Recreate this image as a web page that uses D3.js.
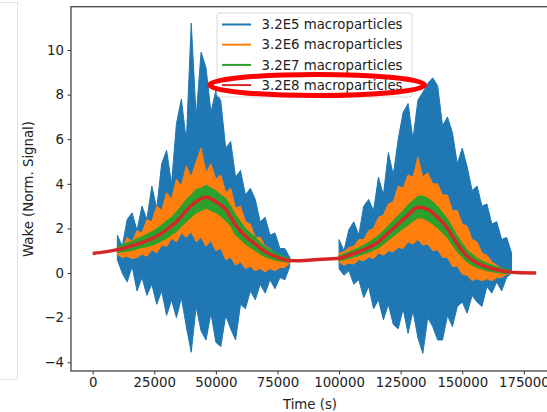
<!DOCTYPE html>
<html>
<head>
<meta charset="utf-8">
<script src="https://cdn.jsdelivr.net/npm/d3@7"></script>
<style>
  body { margin: 0; background: #fff; }
  text { font-family: "DejaVu Sans", sans-serif; fill: #222; }
</style>
</head>
<body>
<div id="chart"></div>
<script>
// time grids (thousands of seconds) for the two noisy humps
var hump1T = [10,12,14,16,18,20,22,24,26,28,30,32,34,36,38,40,42,44,46,48,50,52,54,56,58,60,62,64,66,68,70,72,74,76,78,80];
var hump2T = [100,102,104,106,108,110,112,114,116,118,120,122,124,126,128,130,132,134,136,138,140,142,144,146,148,150,152,154,156,158,160,162,164,166,168,170];

// 3.2E5 macroparticles: max / min per bin
var blueHi1 = [1.7,1.2,2.4,2.7,1.9,3.0,2.4,3.9,2.9,4.9,5.5,4.0,6.7,7.8,5.9,11.2,7.0,9.9,9.2,7.2,8.2,7.7,5.6,5.9,4.3,4.6,3.5,3.8,3.3,2.3,2.5,1.7,1.8,1.1,1.1,0.7];
var blueLo1 = [0.6,0.0,-0.4,0.3,-0.8,-0.2,-1.0,-0.5,-1.4,-0.8,-1.9,-1.2,-2.0,-1.1,-2.4,-3.55,-1.5,-2.6,-3.0,-1.8,-3.1,-3.3,-1.9,-2.5,-3.0,-1.4,-1.6,-0.8,-1.2,-0.5,-0.9,-0.3,-0.7,-0.2,-0.3,0.3];
var blueHi2 = [1.5,1.0,1.95,2.3,1.7,3.0,3.3,2.8,4.3,3.5,5.4,4.4,6.0,7.2,7.6,6.0,7.75,8.1,8.5,8.75,8.4,6.6,7.0,6.3,4.9,5.6,4.75,3.7,3.9,3.0,3.1,2.2,2.3,1.5,1.6,0.9];
var blueLo2 = [0.2,-0.1,0.1,-0.5,-0.3,-1.1,-0.6,-1.6,-1.2,-2.1,-1.4,-2.3,-2.5,-1.6,-2.7,-1.7,-2.9,-3.6,-2.0,-2.4,-3.0,-3.0,-1.9,-2.4,-1.5,-1.3,-1.8,-1.0,-1.3,-1.5,-0.6,-0.9,-0.4,-0.8,-0.2,0.0];

// 3.2E6 macroparticles
var orangeHi1 = [1.2,1.1,1.6,1.4,1.9,1.8,2.4,2.3,3.0,2.8,3.6,3.3,4.2,3.9,4.8,4.3,5.0,5.6,4.5,4.9,4.2,4.4,3.6,3.8,2.9,3.0,2.3,2.2,1.6,1.6,1.2,1.1,0.8,0.8,0.65,0.6];
var orangeLo1 = [0.85,0.7,0.75,0.65,0.7,0.85,0.75,1.05,0.9,1.25,1.2,1.55,1.4,1.8,1.6,1.85,1.4,1.6,1.2,1.45,1.0,1.1,0.6,0.7,0.35,0.5,0.2,0.3,0.1,0.2,0.05,0.2,0.1,0.25,0.25,0.45];
var orangeHi2 = [0.9,0.95,1.15,1.2,1.5,1.5,1.9,2.0,2.5,2.6,3.1,3.2,3.9,3.8,4.4,4.3,5.2,4.3,4.5,4.0,4.0,3.5,3.5,2.8,2.8,2.2,2.1,1.5,1.4,0.9,0.8,0.5,0.35,0.2,0.15,0.1];
var orangeLo2 = [0.5,0.35,0.45,0.4,0.6,0.55,0.72,0.65,0.9,0.8,1.0,0.95,1.15,1.1,1.4,1.3,1.5,1.25,1.3,1.0,1.05,0.7,0.7,0.3,0.3,-0.05,-0.1,-0.35,-0.25,-0.35,-0.25,-0.35,-0.2,-0.2,-0.05,0.0];

// 3.2E7 macroparticles
var greenHi1 = [1.2,1.28,1.35,1.42,1.55,1.62,1.75,1.85,2.0,2.15,2.35,2.5,2.75,3.0,3.3,3.5,3.75,3.8,3.95,3.8,3.7,3.5,3.35,3.0,2.6,2.3,2.0,1.8,1.6,1.38,1.18,1.05,0.92,0.82,0.72,0.65];
var greenLo1 = [0.92,0.95,0.98,1.02,1.08,1.15,1.18,1.25,1.32,1.45,1.55,1.72,1.85,2.1,2.3,2.5,2.7,2.8,2.9,2.8,2.7,2.55,2.35,2.1,1.7,1.5,1.3,1.15,1.0,0.85,0.72,0.65,0.58,0.54,0.5,0.48];
var greenHi2 = [0.78,0.86,0.95,1.04,1.13,1.25,1.38,1.52,1.68,1.9,2.12,2.35,2.58,2.8,3.05,3.25,3.45,3.45,3.35,3.2,2.98,2.7,2.42,2.05,1.65,1.33,1.02,0.85,0.66,0.55,0.44,0.36,0.28,0.22,0.17,0.13];
var greenLo2 = [0.54,0.6,0.66,0.72,0.78,0.86,0.93,1.04,1.13,1.3,1.48,1.65,1.82,2.0,2.16,2.32,2.48,2.45,2.35,2.2,2.02,1.8,1.58,1.25,0.95,0.71,0.48,0.35,0.24,0.17,0.1,0.06,0.02,0.0,-0.02,-0.02];

// 3.2E8 macroparticles (smooth)
var redT = [0,5,10,14,18,22,26,30,34,38,42,46,50,54,58,62,66,70,74,78,82,90,100,104,108,112,116,120,124,128,132,136,140,144,148,152,156,160,164,168,172,180];
var redV = [0.88,0.95,1.05,1.15,1.3,1.45,1.65,1.95,2.3,2.8,3.2,3.4,3.2,2.85,2.15,1.65,1.3,0.95,0.75,0.6,0.55,0.6,0.66,0.8,0.95,1.15,1.4,1.8,2.2,2.6,2.95,2.85,2.5,2.0,1.3,0.75,0.45,0.27,0.15,0.07,0.02,0.0];

var legendLabels = ["3.2E5 macroparticles", "3.2E6 macroparticles", "3.2E7 macroparticles", "3.2E8 macroparticles"];
var colors = ["#1f77b4", "#ff7f0e", "#2ca02c", "#d62728"];
var xTicks = [0, 25000, 50000, 75000, 100000, 125000, 150000, 175000];
var yTicks = [-4, -2, 0, 2, 4, 6, 8, 10];

function band(T, hi, lo) {
    return T.map(function(t, i) { return {t: t * 1000, hi: hi[i], lo: lo[i]}; });
}

function createChart() {
    var W = 547, H = 412;
    var plot = {left: 71, top: 6.7, bottom: 371, right: 548};

    var x = d3.scaleLinear()
        .domain([-8800, 184800])
        .range([plot.left, plot.right]);

    var y = d3.scaleLinear()
        .domain([-4.39, 11.94])
        .range([plot.bottom, plot.top]);

    var svg = d3.select("#chart").append("svg")
        .attr("width", W)
        .attr("height", H);

    // leftover panel border at the left edge
    svg.append("rect")
        .attr("x", -1).attr("y", 2.5)
        .attr("width", 18.5).attr("height", 377)
        .attr("fill", "none")
        .attr("stroke", "#e2e2e2");

    svg.append("defs").append("clipPath").attr("id", "clip")
      .append("rect")
        .attr("x", plot.left).attr("y", plot.top)
        .attr("width", plot.right - plot.left).attr("height", plot.bottom - plot.top);

    var g = svg.append("g").attr("clip-path", "url(#clip)");

    var area = d3.area()
        .x(function(d) { return x(d.t); })
        .y0(function(d) { return y(d.lo); })
        .y1(function(d) { return y(d.hi); });

    var bands = [
        [band(hump1T, blueHi1, blueLo1), band(hump2T, blueHi2, blueLo2)],
        [band(hump1T, orangeHi1, orangeLo1), band(hump2T, orangeHi2, orangeLo2)],
        [band(hump1T, greenHi1, greenLo1), band(hump2T, greenHi2, greenLo2)]
    ];

    bands.forEach(function(pair, k) {
        pair.forEach(function(data) {
            g.append("path")
                .datum(data)
                .attr("d", area)
                .attr("fill", colors[k])
                .attr("stroke", colors[k])
                .attr("stroke-width", 1)
                .attr("stroke-linejoin", "miter");
        });
    });

    var line = d3.line()
        .curve(d3.curveMonotoneX)
        .x(function(d, i) { return x(redT[i] * 1000); })
        .y(function(d) { return y(d); });

    g.append("path")
        .datum(redV)
        .attr("d", line)
        .attr("fill", "none")
        .attr("stroke", colors[3])
        .attr("stroke-width", 3.5);

    // axes
    var xAxis = d3.axisBottom(x)
        .tickValues(xTicks)
        .tickSizeInner(3.5).tickSizeOuter(0).tickPadding(3.5)
        .tickFormat(d3.format("d"));

    var yAxis = d3.axisLeft(y)
        .tickValues(yTicks)
        .tickSizeInner(3.5).tickSizeOuter(0).tickPadding(3.5)
        .tickFormat(function(d) { return d < 0 ? "\u2212" + Math.abs(d) : d; });

    svg.append("g")
        .attr("transform", "translate(0," + plot.bottom + ")")
        .call(xAxis);

    svg.append("g")
        .attr("transform", "translate(" + plot.left + ",0)")
        .call(yAxis);

    svg.selectAll(".tick text")
        .attr("font-size", "13.3px")
        .attr("font-family", "DejaVu Sans")
        .attr("fill", "#222");
    svg.selectAll(".tick line").attr("stroke", "#333").attr("stroke-width", 1);
    svg.selectAll(".domain").remove();

    // spines
    svg.append("rect")
        .attr("x", plot.left).attr("y", plot.top)
        .attr("width", plot.right - plot.left).attr("height", plot.bottom - plot.top)
        .attr("fill", "none")
        .attr("stroke", "#444")
        .attr("stroke-width", 1.3);

    svg.append("text")
        .attr("x", 310).attr("y", 409)
        .attr("text-anchor", "middle")
        .attr("font-size", "13.3px")
        .text("Time (s)");

    svg.append("text")
        .attr("transform", "translate(33,189) rotate(-90)")
        .attr("text-anchor", "middle")
        .attr("font-size", "13.3px")
        .text("Wake (Norm. Signal)");

    // legend
    var lg = svg.append("g");
    lg.append("rect")
        .attr("x", 217).attr("y", 13)
        .attr("width", 195).attr("height", 84)
        .attr("rx", 3)
        .attr("fill", "#fff").attr("fill-opacity", 0.8)
        .attr("stroke", "#d8d8d8");

    legendLabels.forEach(function(label, i) {
        var yy = 24.5 + i * 20.2;
        lg.append("line")
            .attr("x1", 222).attr("x2", 251)
            .attr("y1", yy).attr("y2", yy)
            .attr("stroke", colors[i])
            .attr("stroke-width", 2);
        lg.append("text")
            .attr("x", 261.5).attr("y", yy)
            .attr("dy", "0.35em")
            .attr("font-size", "13.3px")
            .text(label);
    });

    // hand-drawn highlight around the last legend entry
    svg.append("ellipse")
        .attr("cx", 317).attr("cy", 85)
        .attr("rx", 107.5).attr("ry", 10.5)
        .attr("fill", "none")
        .attr("stroke", "#ff0000")
        .attr("stroke-width", 5);
}

createChart();
</script>
</body>
</html>
